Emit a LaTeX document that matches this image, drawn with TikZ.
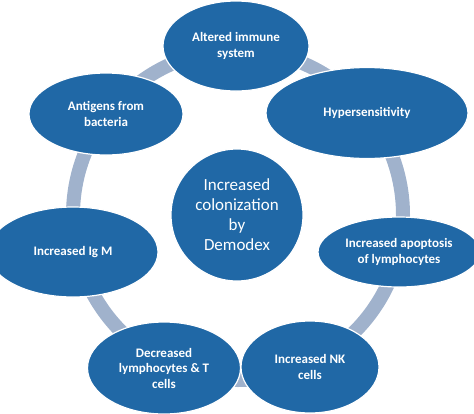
\documentclass[tikz,border=0pt]{standalone}
\usepackage{fontspec}
\setmainfont{Carlito}
\usetikzlibrary{shapes.geometric}
\definecolor{nodeblue}{RGB}{32,104,166}
\definecolor{ringgrey}{RGB}{160,178,204}
\tikzset{
  bubble/.style={ellipse, fill=nodeblue, draw=white, line width=1.2pt, inner sep=0pt,
    text=white, align=center, font=\bfseries\fontsize{13}{15.5}\selectfont},
  ringline/.style={draw=ringgrey, line width=14pt}
}
\begin{document}
\begin{tikzpicture}[x=1pt,y=-1pt]
\useasboundingbox (0,0) rectangle (474,413);
\coordinate (ringc) at (238,215);
\draw[ringline] (ringc) circle[radius=165];
\node[bubble, minimum width=146, minimum height=90] (altered) at (236,46) {Altered immune\\system};
\node[bubble, minimum width=202, minimum height=91] (hyper) at (367,113) {Hypersensitivity};
\node[bubble, minimum width=154, minimum height=82] (antigens) at (106,114) {Antigens from\\bacteria};
\node[bubble, minimum width=162, minimum height=70] (apopt) at (399,252) {Increased apoptosis\\of lymphocytes};
\node[bubble, minimum width=170, minimum height=90] (igm) at (73,252) {Increased Ig M};
\node[bubble, minimum width=153, minimum height=92] (decr) at (164,368) {Decreased\\lymphocytes \& T\\cells};
\node[bubble, minimum width=138, minimum height=92] (nk) at (310,367) {Increased NK\\cells};
\node[bubble, minimum width=132, minimum height=132, font=\fontsize{17}{20}\selectfont] (center) at (237,215) {Increased\\colonization\\by\\Demodex};
\end{tikzpicture}
\end{document}
